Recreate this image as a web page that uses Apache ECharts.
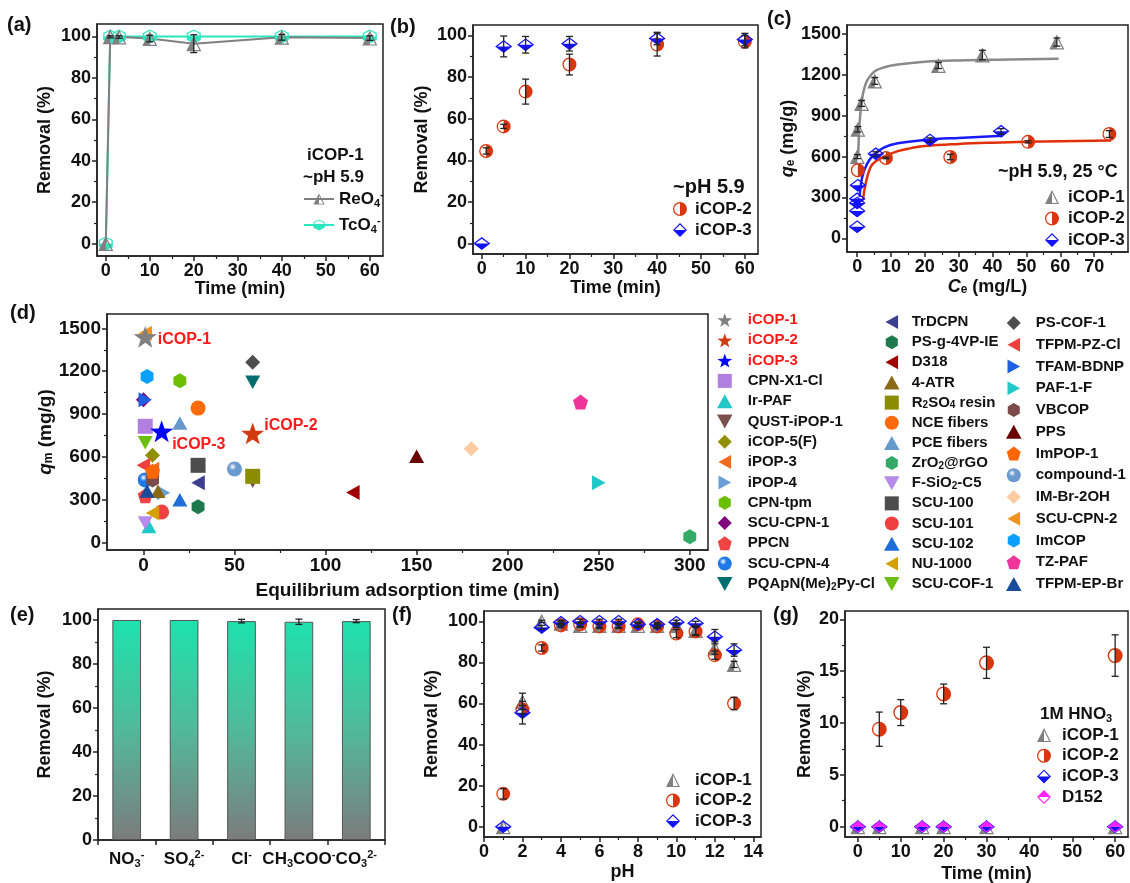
<!DOCTYPE html>
<html><head><meta charset="utf-8">
<script src="https://cdn.jsdelivr.net/npm/echarts@6/dist/echarts.min.js"></script>
<style>html,body{margin:0;padding:0;background:#fff}#c{width:1130px;height:883px}</style>
</head><body><div id="c"></div><script>
// ---------------- DATA ----------------
// (a) kinetics iCOP-1
const aTime = [0, 1, 3, 10, 20, 40, 60];
const aReO4 = [0, 99.8, 99.7, 99, 96.5, 99.6, 99.2];
const aReO4Err = [0, 0.5, 0.6, 1.6, 4.3, 1.4, 1.1];
const aTcO4 = [0, 100, 100, 100, 100, 100, 100];
// (b) kinetics iCOP-2 / iCOP-3
const bTime2 = [1, 5, 10, 20, 40, 60];
const bICOP2 = [44.5, 56.3, 73, 86, 95.6, 97];
const bICOP2Err = [1.5, 1, 6, 5, 5.5, 3];
const bTime3 = [0, 5, 10, 20, 40, 60];
const bICOP3 = [0, 94.7, 95.5, 96, 98.5, 98];
const bICOP3Err = [0, 5, 4, 3.5, 3, 3];
// (c) isotherms
const cCe1 = [0.05, 0.2, 1.3, 5.2, 24, 37, 59];
const cQe1 = [600, 800, 990, 1155, 1268, 1345, 1440];
const cQe1Err = [15, 20, 22, 25, 22, 35, 30];
const cCe2 = [0.2, 8.5, 27.5, 50.5, 74.5];
const cQe2 = [500, 590, 597, 708, 765];
const cQe2Err = [0, 6, 20, 8, 25];
const cCe3 = [0, 0, 0, 0, 0.2, 5.5, 21.5, 42.5];
const cQe3 = [85, 200, 260, 290, 390, 620, 722, 785];
const cQe3Err = [0, 0, 0, 0, 0, 15, 15, 20];
const cFit1X = [0.3, 0.6, 1, 1.5, 2, 3, 5, 8, 12, 20, 30, 45, 59.5];
const cFit1Y = [600, 800, 930, 1030, 1090, 1160, 1222, 1255, 1275, 1295, 1305, 1312, 1318];
const cFit2X = [1.7, 2.5, 3.9, 5.5, 8, 12, 16, 20, 30, 40, 50, 60, 75];
const cFit2Y = [280, 400, 520, 565, 600, 640, 662, 678, 693, 702, 708, 713, 718];
const cFit3X = [0.7, 1.5, 3, 5, 8, 12, 20, 30, 43];
const cFit3Y = [304, 450, 550, 615, 668, 698, 722, 737, 752];
// (d) comparison
const dNames = ['iCOP-1','iCOP-2','iCOP-3','CPN-X1-Cl','Ir-PAF','QUST-iPOP-1','iCOP-5(F)','iPOP-3','iPOP-4','CPN-tpm','SCU-CPN-1','PPCN','SCU-CPN-4','PQApN(Me)2Py-Cl',
  'TrDCPN','PS-g-4VP-IE','D318','4-ATR','R2SO4 resin','NCE fibers','PCE fibers','ZrO2@rGO','F-SiO2-C5','SCU-100','SCU-101','SCU-102','NU-1000','SCU-COF-1',
  'PS-COF-1','TFPM-PZ-Cl','TFAM-BDNP','PAF-1-F','VBCOP','PPS','ImPOP-1','compound-1','IM-Br-2OH','SCU-CPN-2','ImCOP','TZ-PAF','TFPM-EP-Br'];
const dTime = [1, 60, 10, 1, 3, 60, 5, 5, 11, 20, 0, 1, 1, 60,
  30, 30, 115, 8, 60, 30, 20, 300, 1, 30, 10, 20, 5, 1,
  60, 0, 1, 250, 5, 150, 5, 50, 180, 1, 2, 240, 2];
const dQm = [1440, 765, 780, 815, 115, 430, 612, 515, 350, 1133, 1000, 330, 440, 1122,
  420, 252, 352, 360, 465, 942, 838, 42, 138, 542, 216, 302, 208, 700,
  1263, 542, 1000, 420, 440, 605, 500, 516, 658, 1465, 1163, 985, 362];
// (e) anion competition
const eCats = ['NO3-', 'SO42-', 'Cl-', 'CH3COO-', 'CO32-'];
const eVals = [100, 100, 99.5, 99.2, 99.5];
const eErr = [0, 0, 0.8, 1.2, 0.7];
// (f) pH
const fPH = [1, 2, 3, 4, 5, 6, 7, 8, 9, 10, 11, 12, 13];
const fICOP1 = [0, 61, 100, 99, 98, 98, 98, 98, 98, 98, 95.5, 87, 79];
const fICOP1Err = [0, 4, 0.5, 1, 1, 1, 1, 1, 1, 1, 2, 3, 1.5];
const fICOP2 = [16, 57, 87, 98, 98.5, 97.5, 97.5, 98.5, 97.5, 94, 95, 83.5, 60];
const fICOP2Err = [2.5, 2, 1.5, 1, 1, 1, 1, 1, 1, 2, 2, 2, 3];
const fICOP3 = [0, 55.5, 97, 99.5, 100, 100, 100, 98.5, 98.5, 99.5, 99, 92.5, 86];
const fICOP3Err = [0, 5.5, 1, 1, 1, 1, 1, 1, 1, 1, 1, 3.5, 3];
// (g) 1M HNO3
const gTime = [0, 5, 15, 20, 30, 60];
const gICOP1 = [0, 0, 0, 0, 0, 0];
const gICOP3 = [0, 0, 0, 0, 0, 0];
const gD152 = [0, 0, 0, 0, 0, 0];
const gTime2 = [5, 10, 20, 30, 60];
const gICOP2 = [9.4, 11, 12.8, 15.8, 16.5];
const gICOP2Err = [1.65, 1.25, 0.95, 1.5, 2];
// tick labels
const tMajor60 = [0, 10, 20, 30, 40, 50, 60], tMinor60 = [5, 15, 25, 35, 45, 55];
const pctMajor = [0, 20, 40, 60, 80, 100], pctMinor = [10, 30, 50, 70, 90];
const cXMajor = [0, 10, 20, 30, 40, 50, 60, 70], cXMinor = [5, 15, 25, 35, 45, 55, 65, 75];
const qMajor = [0, 300, 600, 900, 1200, 1500], qMinor = [150, 450, 750, 1050, 1350];
const dXMajor = [0, 50, 100, 150, 200, 250, 300], dXMinor = [25, 75, 125, 175, 225, 275];
const fXMajor = [0, 2, 4, 6, 8, 10, 12, 14], fXMinor = [1, 3, 5, 7, 9, 11, 13];
const gYMajor = [0, 5, 10, 15, 20], gYMinor = [2.5, 7.5, 12.5, 17.5];

// ---------------- STYLE ----------------
const FONT = '"Liberation Sans", Arial, Helvetica, sans-serif';
const INK = '#111';
const GREY = '#808080', RED = '#D8360E', BLUE = '#1212FF', TEAL = '#2BE6BE', MAG = '#FF22FF';
const P = {
  triL: 'path://M0,100 L50,0 L100,100 Z M13,92 L87,92 L50,18 Z M0,100 L50,0 L50,100 Z',
  cirR: 'path://M50,0 A50,50 0 1 1 50,100 A50,50 0 1 1 50,0 Z M50,9 A41,41 0 1 0 50,91 A41,41 0 1 0 50,9 Z M50,0 A50,50 0 0 1 50,100 Z',
  diaB: 'path://M50,0 L100,50 L50,100 L0,50 Z M50,12 L12,50 L50,88 L88,50 Z M0,50 L100,50 L50,100 Z',
  diaT: 'path://M50,0 L100,50 L50,100 L0,50 Z M50,12 L12,50 L50,88 L88,50 Z M0,50 L50,0 L100,50 Z',
  hexB: 'path://M50,0 L93,25 L93,75 L50,100 L7,75 L7,25 Z M50,9 L15,30 L15,70 L50,91 L85,70 L85,30 Z M7,50 L93,50 L93,75 L50,100 L7,75 Z',
  star: 'path://M50,0 L61.8,33.8 L97.6,34.5 L69,56.2 L79.4,90.5 L50,70 L20.6,90.5 L31,56.2 L2.4,34.5 L38.2,33.8 Z',
  tri: 'path://M50,0 L100,90 L0,90 Z',
  triD: 'path://M0,0 L100,0 L50,90 Z',
  triLf: 'path://M0,50 L90,0 L90,100 Z',
  triRt: 'path://M0,0 L90,50 L0,100 Z',
  hex: 'path://M50,0 L93,25 L93,75 L50,100 L7,75 L7,25 Z',
  pent: 'path://M50,0 L100,38 L81,100 L19,100 L0,38 Z',
  sq: 'path://M0,0 L100,0 L100,100 L0,100 Z',
  dia: 'path://M50,0 L100,50 L50,100 L0,50 Z',
  cir: 'circle', sph: 'circle'
};
const dSym = ['star','star','star','sq','tri','triD','dia','triLf','triRt','hex','dia','pent','sph','triD',
  'triLf','hex','triLf','tri','sq','cir','tri','hex','triD','sq','cir','tri','triLf','triD',
  'dia','triLf','triRt','triRt','hex','tri','pent','sph','dia','triLf','hex','pent','tri'];
const dCol = ['#808080','#D23A10','#0000FF','#B07FE0','#22C8C8','#7D5050','#8F8F00','#F36A1C','#6A9ED8','#6CBF00','#800080','#EE4444','#1E78E6','#006E6E',
  '#3E3E90','#1E7A4E','#A00000','#8B6914','#8C8C00','#FF6A0A','#6699CC','#33AA66','#B88AEA','#4D4D4D','#EE4040','#1E6ED8','#D4A000','#6CBF10',
  '#4D4D4D','#EE3E3E','#1E60E0','#20C8C8','#7B4A4A','#6B0000','#FF6600','#6A9AD0','#FFCBA0','#F0921E','#0AA0FF','#EE3399','#1A4C9C'];

const DISP = {
  'ReO4-': 'ReO{s|4}{p|-}', 'TcO4-': 'TcO{s|4}{p|-}',
  'R2SO4 resin': 'R{s|2}SO{s|4} resin', 'ZrO2@rGO': 'ZrO{s|2}@rGO', 'F-SiO2-C5': 'F-SiO{s|2}-C5',
  'PQApN(Me)2Py-Cl': 'PQApN(Me){s|2}Py-Cl',
  'NO3-': 'NO{s|3}{p|-}', 'SO42-': 'SO{s|4}{p|2-}', 'Cl-': 'Cl{p|-}', 'CH3COO-': 'CH{s|3}COO{p|-}', 'CO32-': 'CO{s|3}{p|2-}'
};
function fmtName(name) { const n = name.slice(name.indexOf(':') + 1); return DISP[n] || n; }
function rich(fs) {
  const sf = Math.round(fs * 0.64);
  return {
    s: { fontSize: sf, fontWeight: 'bold', fontFamily: FONT, lineHeight: sf + 1, verticalAlign: 'bottom' },
    p: { fontSize: sf, fontWeight: 'bold', fontFamily: FONT, lineHeight: sf + 1, verticalAlign: 'top' },
    i: { fontSize: fs, fontWeight: 'bold', fontStyle: 'italic', fontFamily: FONT },
    n: { fontSize: fs, fontWeight: 'bold', fontFamily: FONT }
  };
}

// ---------------- LAYOUT ----------------
const grid = [
  { left: 97, top: 24, width: 286, height: 232 },
  { left: 473, top: 25, width: 285, height: 229 },
  { left: 847, top: 25, width: 281, height: 227 },
  { left: 107, top: 314, width: 601, height: 236 },
  { left: 98, top: 609, width: 287, height: 231 },
  { left: 484, top: 611, width: 277, height: 226 },
  { left: 845, top: 611, width: 283, height: 226 }
].map(g => Object.assign({ show: true, borderColor: '#222', borderWidth: 1.5, backgroundColor: 'rgba(0,0,0,0)', containLabel: false, outerBoundsMode: 'none' }, g));

const xAxis = [], yAxis = [];
function mkAxis(dim, g, o) {
  const fs = o.fs || 18, nfs = o.nfs || 18;
  const main = {
    type: o.type || 'value', gridIndex: g, position: dim === 'x' ? 'bottom' : 'left',
    axisLine: { show: true, onZero: false, lineStyle: { color: '#222', width: 1.5 } },
    axisTick: { show: true, inside: false, length: 5, lineStyle: { color: '#222', width: 1.5 } },
    axisLabel: { fontFamily: FONT, fontSize: fs, fontWeight: 'bold', color: INK, margin: o.margin || 6 },
    splitLine: { show: false },
    name: o.name, nameLocation: 'middle', nameGap: o.gap, nameMoveOverlap: false,
    nameTextStyle: { fontFamily: FONT, fontSize: nfs, fontWeight: 'bold', color: INK, rich: rich(nfs) }
  };
  if (main.type === 'value') {
    main.min = o.min; main.max = o.max;
    main.axisTick.customValues = o.major; main.axisLabel.customValues = o.major;
    main.axisLabel.formatter = v => String(v);
  } else {
    main.data = o.data; main.boundaryGap = true;
    main.axisLabel.formatter = o.formatter; main.axisLabel.rich = rich(fs);
    main.axisLabel.interval = 0; main.axisLabel.lineHeight = 20; main.axisLabel.hideOverlap = false;
    main.axisTick.alignWithLabel = false;
  }
  const minor = {
    type: 'value', gridIndex: g, position: main.position, show: !!o.minor,
    min: o.min, max: o.max,
    axisLine: { show: false, onZero: false }, axisLabel: { show: false }, splitLine: { show: false },
    axisTick: { show: true, length: 3, lineStyle: { color: '#222', width: 1.2 }, customValues: o.minor || [] }
  };
  (dim === 'x' ? xAxis : yAxis).push(main, minor);
}
mkAxis('x', 0, { min: -2, max: 63, major: tMajor60, minor: tMinor60, name: 'Time (min)', gap: 24 });
mkAxis('y', 0, { min: -6, max: 106, major: pctMajor, minor: pctMinor, name: 'Removal (%)', gap: 43 });
mkAxis('x', 1, { min: -2, max: 63, major: tMajor60, minor: tMinor60, name: 'Time (min)', gap: 25 });
mkAxis('y', 1, { min: -5, max: 105, major: pctMajor, minor: pctMinor, name: 'Removal (%)', gap: 42 });
mkAxis('x', 2, { min: -3, max: 80, major: cXMajor, minor: cXMinor, name: '{i|C}{s|e}{n| (mg/L)}', gap: 26 });
mkAxis('y', 2, { min: -100, max: 1565, major: qMajor, minor: qMinor, name: '{i|q}{s|e}{n| (mg/g)}', gap: 50 });
mkAxis('x', 3, { min: -20, max: 310, major: dXMajor, minor: dXMinor, name: 'Equilibrium adsorption time (min)', gap: 31, fs: 19, nfs: 19 });
mkAxis('y', 3, { min: -50, max: 1600, major: qMajor, minor: qMinor, name: '{i|q}{s|m}{n| (mg/g)}', gap: 52, fs: 19, nfs: 19 });
mkAxis('x', 4, { type: 'category', data: eCats, formatter: fmtName, fs: 17, margin: 9 });
mkAxis('y', 4, { min: 0, max: 105, major: pctMajor, minor: pctMinor, name: 'Removal (%)', gap: 44 });
mkAxis('x', 5, { min: 0, max: 14.4, major: fXMajor, minor: fXMinor, name: 'pH', gap: 26 });
mkAxis('y', 5, { min: -5, max: 105, major: pctMajor, minor: pctMinor, name: 'Removal (%)', gap: 43 });
mkAxis('x', 6, { min: -3, max: 63, major: tMajor60, minor: tMinor60, name: 'Time (min)', gap: 28 });
mkAxis('y', 6, { min: -1, max: 20.8, major: gYMajor, minor: gYMinor, name: 'Removal (%)', gap: 31 });

// ---------------- SERIES ----------------
const series = [];
function pts(xs, ys) { return xs.map((x, i) => [x, ys[i]]); }
function scatter(g, name, xs, ys, sym, size, color, extra) {
  series.push(Object.assign({
    type: 'scatter', name, xAxisIndex: 2 * g, yAxisIndex: 2 * g, symbol: sym, symbolSize: size,
    itemStyle: { color, opacity: 1 }, data: pts(xs, ys), z: 3, silent: true
  }, extra || {}));
}
function errbars(g, xs, ys, es) {
  const data = [];
  xs.forEach((x, i) => { if (es[i] > 0) data.push([x, ys[i] - es[i], ys[i] + es[i]]); });
  series.push({
    type: 'custom', xAxisIndex: 2 * g, yAxisIndex: 2 * g, z: 6, silent: true, data,
    encode: { x: 0, y: [1, 2] },
    renderItem: (params, api) => {
      const x = api.value(0);
      const lo = api.coord([x, api.value(1)]), hi = api.coord([x, api.value(2)]);
      const w = 3.5, st = { stroke: '#222', lineWidth: 1.3 };
      return { type: 'group', children: [
        { type: 'line', shape: { x1: lo[0], y1: lo[1], x2: hi[0], y2: hi[1] }, style: st },
        { type: 'line', shape: { x1: lo[0] - w, y1: lo[1], x2: lo[0] + w, y2: lo[1] }, style: st },
        { type: 'line', shape: { x1: hi[0] - w, y1: hi[1], x2: hi[0] + w, y2: hi[1] }, style: st }
      ] };
    }
  });
}
function fit(g, name, xs, ys, color) {
  series.push({ type: 'line', name, xAxisIndex: 2 * g, yAxisIndex: 2 * g, data: pts(xs, ys), smooth: 0.4,
    showSymbol: false, symbol: 'none', lineStyle: { color, width: 2.5 }, z: 2, silent: true });
}
// (a)
series.push({ type: 'line', name: 'a:TcO4-', xAxisIndex: 0, yAxisIndex: 0, data: pts(aTime, aTcO4), symbol: P.hexB, symbolSize: 14,
  itemStyle: { color: TEAL }, lineStyle: { color: TEAL, width: 2 }, z: 3, silent: true });
series.push({ type: 'line', name: 'a:ReO4-', xAxisIndex: 0, yAxisIndex: 0, data: pts(aTime, aReO4), symbol: P.triL, symbolSize: 15,
  itemStyle: { color: GREY }, lineStyle: { color: GREY, width: 2 }, z: 3, silent: true });
errbars(0, aTime, aReO4, aReO4Err);
// (b)
scatter(1, 'b:iCOP-2', bTime2, bICOP2, P.cirR, 14, RED);
scatter(1, 'b:iCOP-3', bTime3, bICOP3, P.diaB, [17, 13], BLUE);
errbars(1, bTime2, bICOP2, bICOP2Err);
errbars(1, bTime3, bICOP3, bICOP3Err);
// (c)
fit(2, 'c:fit1', cFit1X, cFit1Y, '#8A8A8A');
fit(2, 'c:fit2', cFit2X, cFit2Y, '#E0300A');
fit(2, 'c:fit3', cFit3X, cFit3Y, '#1A1AFF');
scatter(2, 'c:iCOP-1', cCe1, cQe1, P.triL, 15, GREY);
scatter(2, 'c:iCOP-2', cCe2, cQe2, P.cirR, 14, RED);
scatter(2, 'c:iCOP-3', cCe3, cQe3, P.diaB, [17, 13], BLUE);
errbars(2, cCe1, cQe1, cQe1Err);
errbars(2, cCe2, cQe2, cQe2Err);
errbars(2, cCe3, cQe3, cQe3Err);
// (d)
function sphere(c) {
  return { type: 'radial', x: 0.38, y: 0.35, r: 0.7, colorStops: [
    { offset: 0, color: '#ffffff' }, { offset: 0.35, color: c }, { offset: 1, color: c }] };
}
const dLabelOffset = { 'iCOP-1': [-4, 3], 'iCOP-2': [-5, -8], 'iCOP-3': [-6, 13] };
dNames.forEach((n, i) => {
  const s = dSym[i];
  const isStar = s === 'star';
  const extra = { z: isStar ? 5 : 3, symbolKeepAspect: true };
  if (isStar) extra.label = { show: true, position: 'right', offset: dLabelOffset[n], formatter: n,
    color: '#FF1A1A', fontFamily: FONT, fontSize: 16, fontWeight: 'bold' };
  scatter(3, 'd:' + n, [dTime[i]], [dQm[i]], P[s], isStar ? 23 : 15, s === 'sph' ? sphere(dCol[i]) : dCol[i], extra);
});
// (e)
series.push({ type: 'bar', name: 'e:bars', xAxisIndex: 8, yAxisIndex: 8, data: eVals, barWidth: '50%', silent: true,
  itemStyle: { borderColor: '#555', borderWidth: 1,
    color: { type: 'linear', x: 0, y: 0, x2: 0, y2: 1, colorStops: [{ offset: 0, color: '#1DE2AC' }, { offset: 0.5, color: '#52B99A' }, { offset: 1, color: '#7C7C7C' }] } } });
errbars(4, eCats, eVals, eErr);
// (f)
scatter(5, 'f:iCOP-1', fPH, fICOP1, P.triL, 15, GREY);
scatter(5, 'f:iCOP-2', fPH, fICOP2, P.cirR, 14, RED);
scatter(5, 'f:iCOP-3', fPH, fICOP3, P.diaB, [17, 13], BLUE);
errbars(5, fPH, fICOP1, fICOP1Err);
errbars(5, fPH, fICOP2, fICOP2Err);
errbars(5, fPH, fICOP3, fICOP3Err);
// (g)
scatter(6, 'g:iCOP-1', gTime, gICOP1, P.triL, 15, GREY);
scatter(6, 'g:iCOP-2', gTime2, gICOP2, P.cirR, 15, RED);
scatter(6, 'g:iCOP-3', gTime, gICOP3, P.diaB, [17, 13], BLUE);
scatter(6, 'g:D152', gTime, gD152, P.diaT, [15, 12], MAG);
errbars(6, gTime2, gICOP2, gICOP2Err);

// ---------------- TEXT ----------------
function tx(text, left, top, fs) {
  return { text, left, top, padding: 0, textStyle: { fontFamily: FONT, fontSize: fs, fontWeight: 'bold', color: INK, lineHeight: Math.round(fs * 1.15), rich: rich(fs) } };
}
const title = [
  tx('(a)', 7, 14, 20), tx('(b)', 390, 16, 20), tx('(c)', 767, 8, 20), tx('(d)', 10, 302, 20),
  tx('(e)', 10, 604, 20), tx('(f)', 392, 604, 20), tx('(g)', 773, 604, 20),
  tx('iCOP-1', 307, 145, 17), tx('~pH 5.9', 303, 167, 17),
  tx('~pH 5.9', 673, 176, 20),
  tx('~pH 5.9, 25 °C', 998, 162, 18),
  tx('1M HNO{s|3}', 1040, 704, 17)
];
function lg(names, left, top, itemW, itemH, gap, fs, lh) {
  return { data: names, orient: 'vertical', left, top, itemWidth: itemW, itemHeight: itemH, itemGap: gap,
    selectedMode: false, padding: 0, formatter: fmtName, symbolKeepAspect: true,
    textStyle: { fontFamily: FONT, fontSize: fs, fontWeight: 'bold', color: INK, lineHeight: lh, rich: rich(fs) } };
}
const red = n => ({ name: 'd:' + n, textStyle: { color: '#FF1A1A' } });
const dl = n => (n.startsWith('iCOP-') && n.length === 6 ? red(n) : 'd:' + n);
const legend = [
  lg(['a:ReO4-', 'a:TcO4-'], 303, 189, 30, 14, 6, 17, 20),
  lg(['b:iCOP-2', 'b:iCOP-3'], 673, 199, 20, 14, 1, 17, 20),
  lg(['c:iCOP-1', 'c:iCOP-2', 'c:iCOP-3'], 1045, 187, 22, 14, 1.5, 17, 20),
  lg(['f:iCOP-1', 'f:iCOP-2', 'f:iCOP-3'], 666, 770, 34, 14, 0.5, 17, 20),
  lg(['g:iCOP-1', 'g:iCOP-2', 'g:iCOP-3', 'g:D152'], 1037, 725, 26, 14, 0.7, 17, 20),
  lg(dNames.slice(0, 14).map(dl), 717, 312, 36, 14, 4.3, 15, 16),
  lg(dNames.slice(14, 28).map(dl), 884, 314, 30, 14, 4.15, 15, 16),
  lg(dNames.slice(28).map(dl), 1006, 315, 34, 14, 5.75, 15, 16)
];

const chart = echarts.init(document.getElementById('c'), null, { renderer: 'canvas' });
chart.setOption({ animation: false, backgroundColor: '#fff', grid, xAxis, yAxis, series, title, legend, tooltip: { show: false } });
</script></body></html>
